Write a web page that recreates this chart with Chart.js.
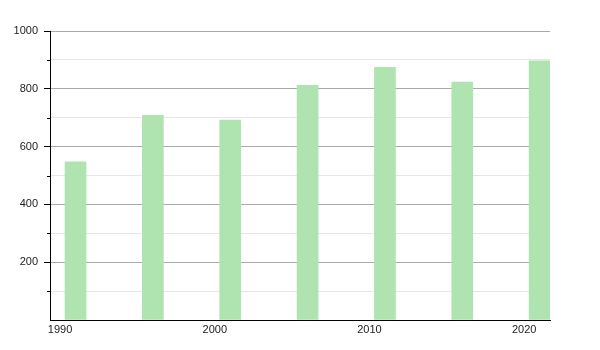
<!DOCTYPE html>
<html>
<head>
<meta charset="utf-8">
<script src="https://cdn.jsdelivr.net/npm/chart.js@4"></script>
<style>
  html, body { margin: 0; padding: 0; background: #fff; }
  #wrap { width: 600px; height: 350px; }
</style>
</head>
<body>
<div id="wrap"><canvas id="c" width="600" height="350"></canvas></div>
<script>
const years = [1991, 1996, 2001, 2006, 2011, 2016, 2021];
const values = [547, 708, 692, 812, 874, 823, 897];
const xTickLabels = [1990, 2000, 2010, 2020];
const yMajorTicks = [200, 400, 600, 800, 1000];

const minorTicks = {
  id: 'minorTicks',
  afterDraw(chart) {
    const y = chart.scales.y;
    const ctx = chart.ctx;
    ctx.save();
    ctx.strokeStyle = '#000';
    ctx.lineWidth = 1;
    for (let v = 100; v < 1000; v += 200) {
      const py = Math.round(y.getPixelForValue(v)) + 0.5;
      ctx.beginPath();
      ctx.moveTo(y.right - 3, py);
      ctx.lineTo(y.right, py);
      ctx.stroke();
    }
    ctx.restore();
  }
};

new Chart(document.getElementById('c'), {
  type: 'bar',
  data: {
    datasets: [{
      data: years.map((yr, i) => ({ x: yr, y: values[i] })),
      backgroundColor: '#afe3af',
      borderWidth: 0,
      barThickness: 21
    }]
  },
  options: {
    responsive: false,
    animation: false,
    events: [],
    layout: { padding: { top: 31, right: 50, left: 0, bottom: 0 } },
    plugins: { legend: { display: false }, tooltip: { enabled: false } },
    scales: {
      x: {
        type: 'linear',
        offset: false,
        min: 1989.35,
        max: 2021.67,
        afterBuildTicks: s => { s.ticks = xTickLabels.map(v => ({ value: v })); },
        afterFit: s => { s.height = 30; },
        grid: { display: false, drawTicks: false, offset: false },
        border: { color: '#000', width: 1 },
        ticks: {
          color: '#222',
          font: { family: 'Liberation Sans', size: 11 },
          padding: 3,
          maxRotation: 0,
          callback: v => String(v)
        }
      },
      y: {
        min: 0,
        max: 1000,
        afterBuildTicks: s => {
          const t = [];
          for (let v = 0; v <= 1000; v += 100) t.push({ value: v });
          s.ticks = t;
        },
        afterFit: s => { s.width = 50; },
        border: { color: '#000', width: 1 },
        grid: {
          color: c => (c.tick.value === 0 ? 'rgba(0,0,0,0)' : (c.tick.value % 200 === 0 ? '#aaaaaa' : '#e6e6e6')),
          tickColor: c => (c.tick.value % 200 === 0 && c.tick.value !== 0 ? '#000' : 'rgba(0,0,0,0)'),
          tickLength: 6
        },
        ticks: {
          color: '#222',
          font: { family: 'Liberation Sans', size: 11 },
          padding: 6,
          callback: v => (yMajorTicks.includes(v) ? String(v) : '')
        }
      }
    }
  },
  plugins: [minorTicks]
});
</script>
</body>
</html>
